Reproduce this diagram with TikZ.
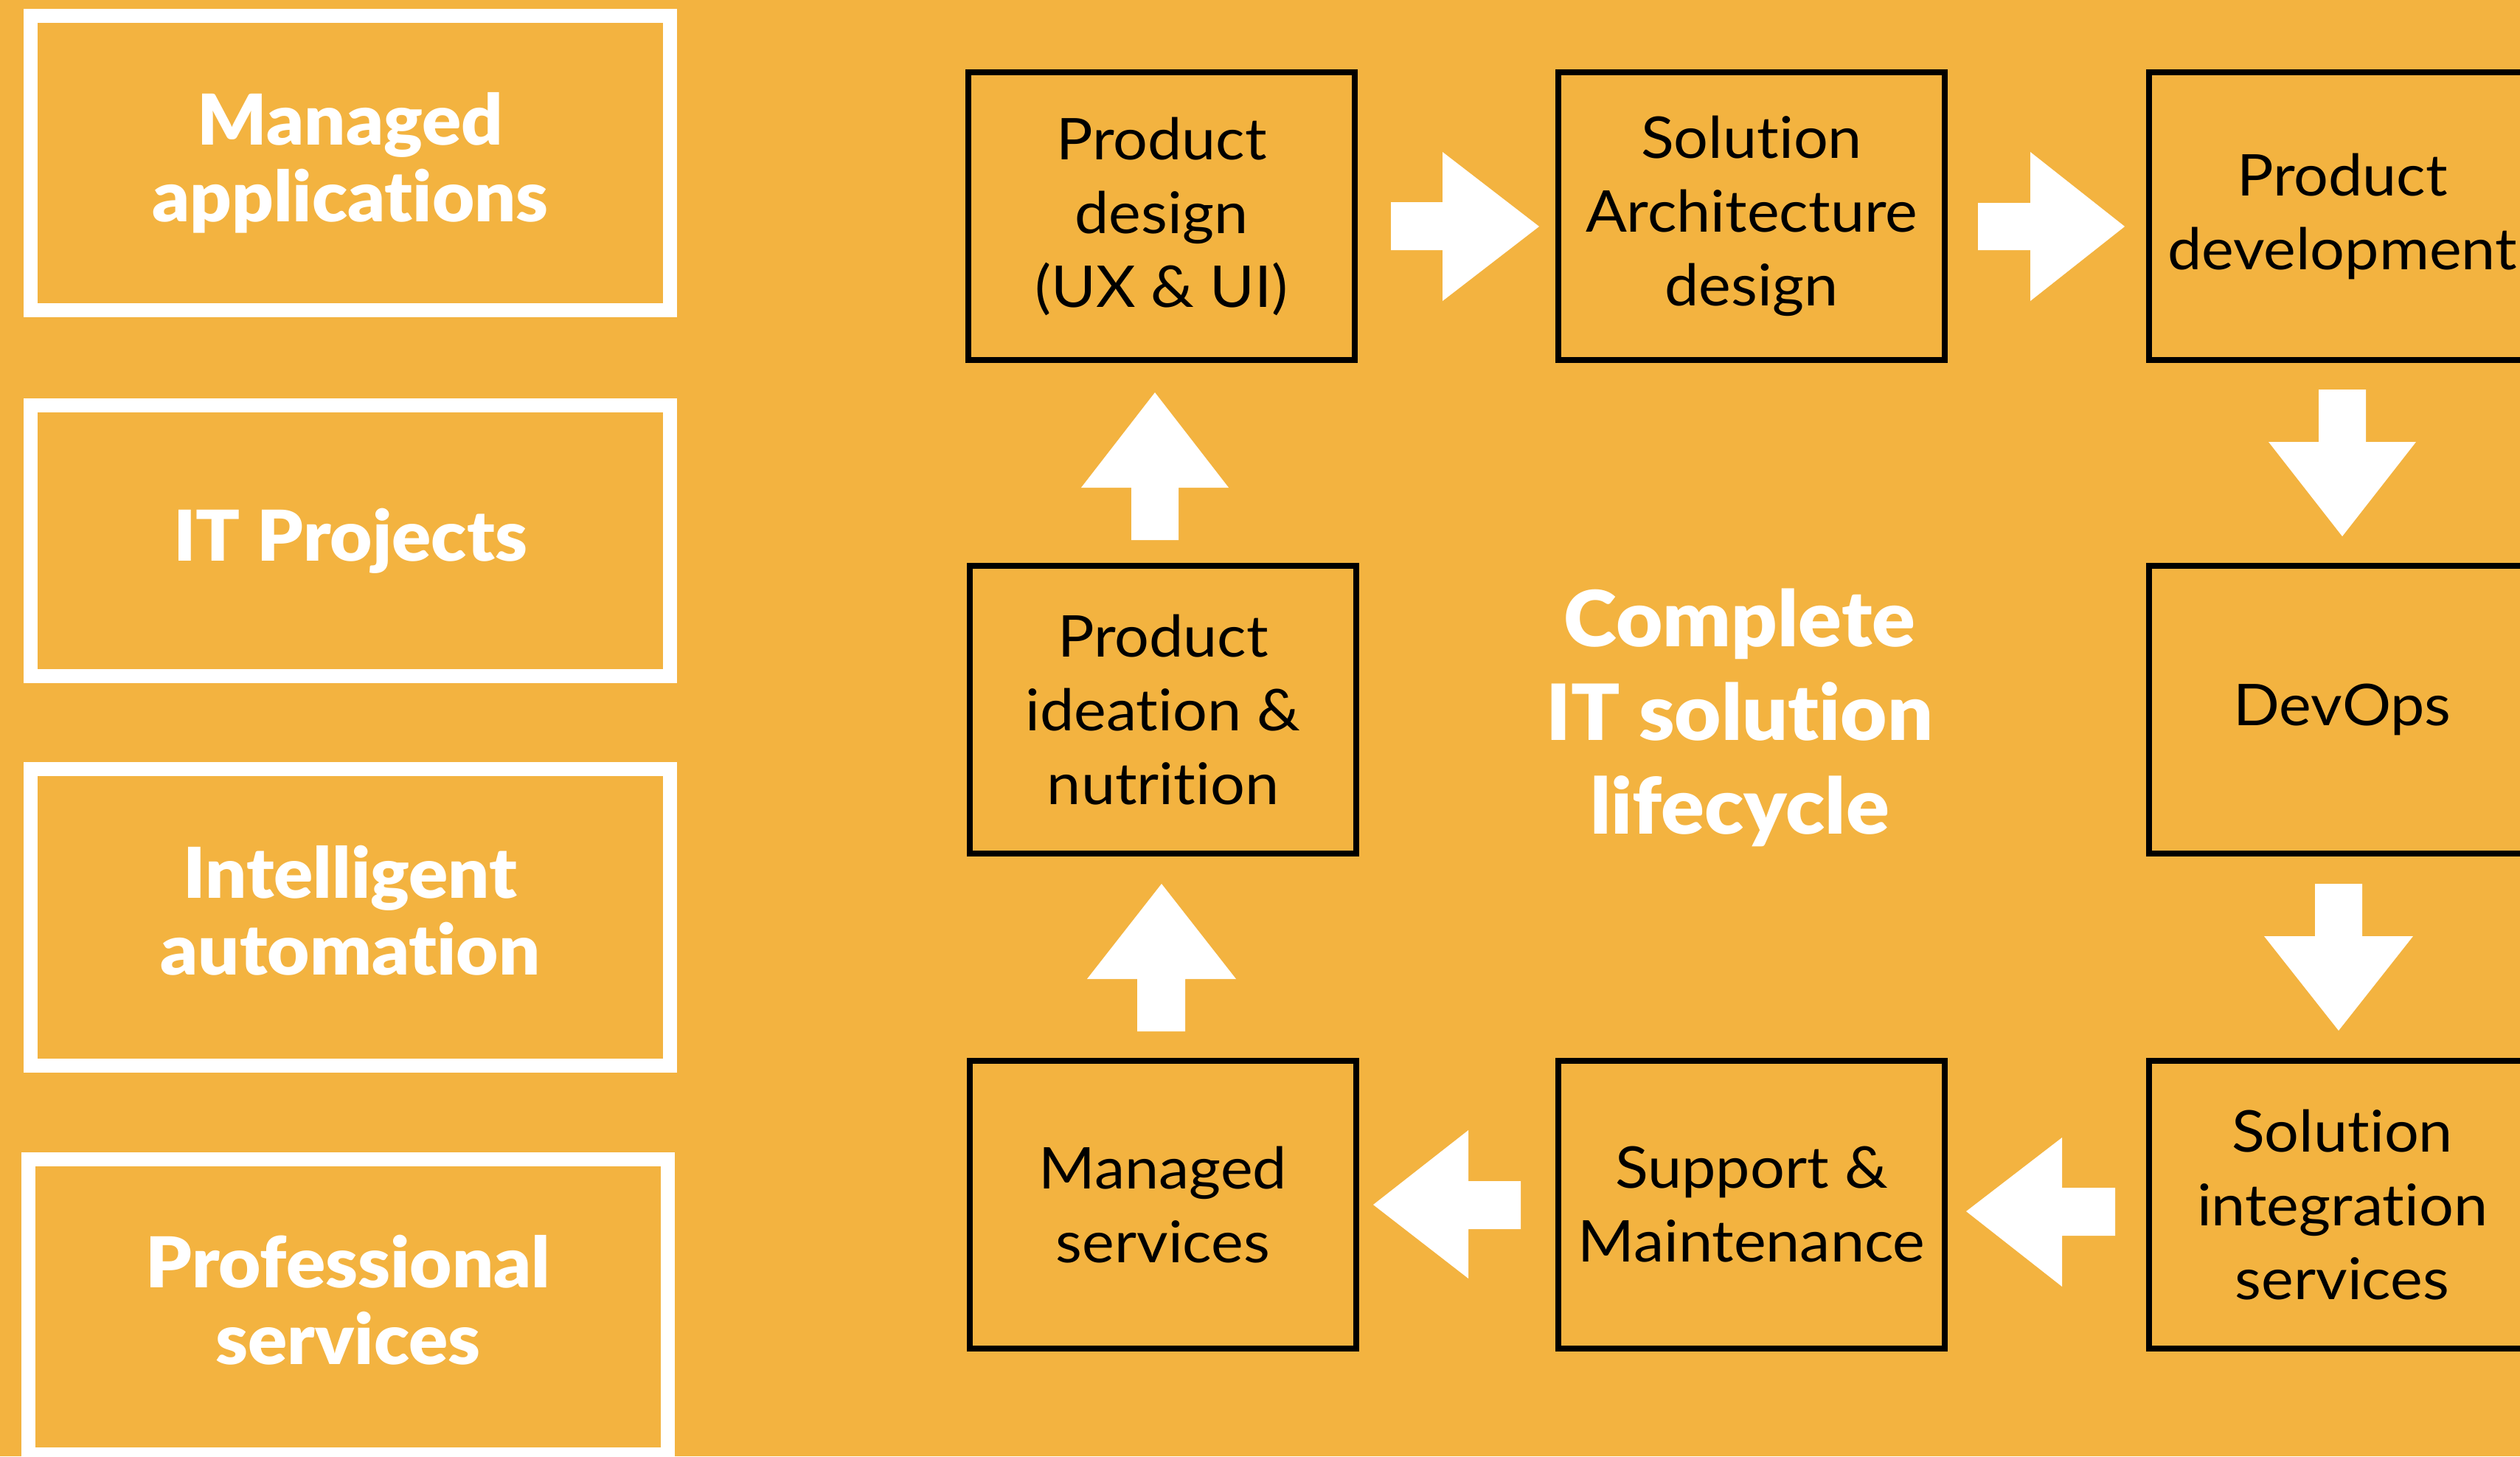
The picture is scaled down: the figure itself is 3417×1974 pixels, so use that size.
\documentclass[tikz,border=0pt]{standalone}
\usepackage{fontspec}
\setmainfont{Lato}[Ligatures={NoCommon}, FakeStretch=1.06]
\newfontfamily\heavyfont{Lato Black}[Ligatures={NoCommon}, FakeStretch=1.04]
\definecolor{bgorange}{RGB}{243,179,64}
\tikzset{
  sidebox/.style={draw=white, line width=19pt, minimum width=867pt, align=center,
    text=white, font=\heavyfont\fontsize{95}{104}\selectfont, inner sep=0pt},
  stagebox/.style={draw=black, line width=8pt, minimum width=524pt, minimum height=390pt,
    align=center, text=black, font=\fontsize{78}{100}\selectfont, inner sep=0pt},
  blockarrow/.style={fill=white, draw=none},
  titletext/.style={align=center, text=white, font=\heavyfont\fontsize{105}{127}\selectfont, inner sep=0pt}
}
\begin{document}
\begin{tikzpicture}[x=1pt, y=-1pt]
\useasboundingbox (0,0) rectangle (3417,1974);
\clip (0,0) rectangle (3417,1974);
\fill[bgorange] (0,0) rectangle (3417,1974);

% left column
\node[sidebox, minimum height=399pt] (managedapps) at (475,221) {Managed\\applications};
\node[sidebox, minimum height=367pt] (itprojects) at (475,733) {IT Projects};
\node[sidebox, minimum height=402pt, text depth=20pt] (intauto) at (475,1243.5) {Intelligent\\automation};
\node[sidebox, minimum height=400pt, minimum width=867pt, text depth=20pt] (profserv) at (472,1771.5) {Professional\\services};

% lifecycle boxes
\node[stagebox] (design) at (1575,293) {Product\\design\\(UX \& UI)};
\node[stagebox] (arch) at (2375,293) {Solution\\Architecture\\design};
\node[stagebox] (dev) at (3176,293) {Product\\development};
\node[stagebox] (ideation) at (1577,962) {Product\\ideation \&\\nutrition};
\node[stagebox] (devops) at (3176,962) {DevOps};
\node[stagebox] (managed) at (1577,1633) {Managed\\services};
\node[stagebox] (support) at (2375,1633) {Support \&\\Maintenance};
\node[stagebox] (integration) at (3176,1633) {Solution\\integration\\services};

% title
\node[titletext] (title) at (2359,973) {Complete\\IT solution\\lifecycle};

% block arrows
% design -> arch
\fill[blockarrow] (1886,274) -- (1956,274) -- (1956,206) -- (2087,307) -- (1956,408) -- (1956,339) -- (1886,339) -- cycle;
% arch -> dev
\fill[blockarrow] (2682,275) -- (2753,275) -- (2753,206) -- (2881,307) -- (2753,408) -- (2753,339) -- (2682,339) -- cycle;
% dev -> devops
\fill[blockarrow] (3144,528) -- (3208,528) -- (3208,599) -- (3276,599) -- (3176,727) -- (3076,599) -- (3144,599) -- cycle;
% devops -> integration
\fill[blockarrow] (3139,1198) -- (3203,1198) -- (3203,1269) -- (3272,1269) -- (3171,1397) -- (3070,1269) -- (3139,1269) -- cycle;
% integration -> support
\fill[blockarrow] (2868,1610) -- (2796,1610) -- (2796,1542) -- (2666,1642) -- (2796,1744) -- (2796,1675) -- (2868,1675) -- cycle;
% support -> managed
\fill[blockarrow] (2062,1601) -- (1991,1601) -- (1991,1532) -- (1862,1633) -- (1991,1733) -- (1991,1666) -- (2062,1666) -- cycle;
% managed -> ideation
\fill[blockarrow] (1542,1398) -- (1542,1327) -- (1474,1327) -- (1575,1198) -- (1676,1327) -- (1607,1327) -- (1607,1398) -- cycle;
% ideation -> design
\fill[blockarrow] (1534,732) -- (1534,661) -- (1466,661) -- (1566,532) -- (1666,661) -- (1598,661) -- (1598,732) -- cycle;
\end{tikzpicture}
\end{document}
